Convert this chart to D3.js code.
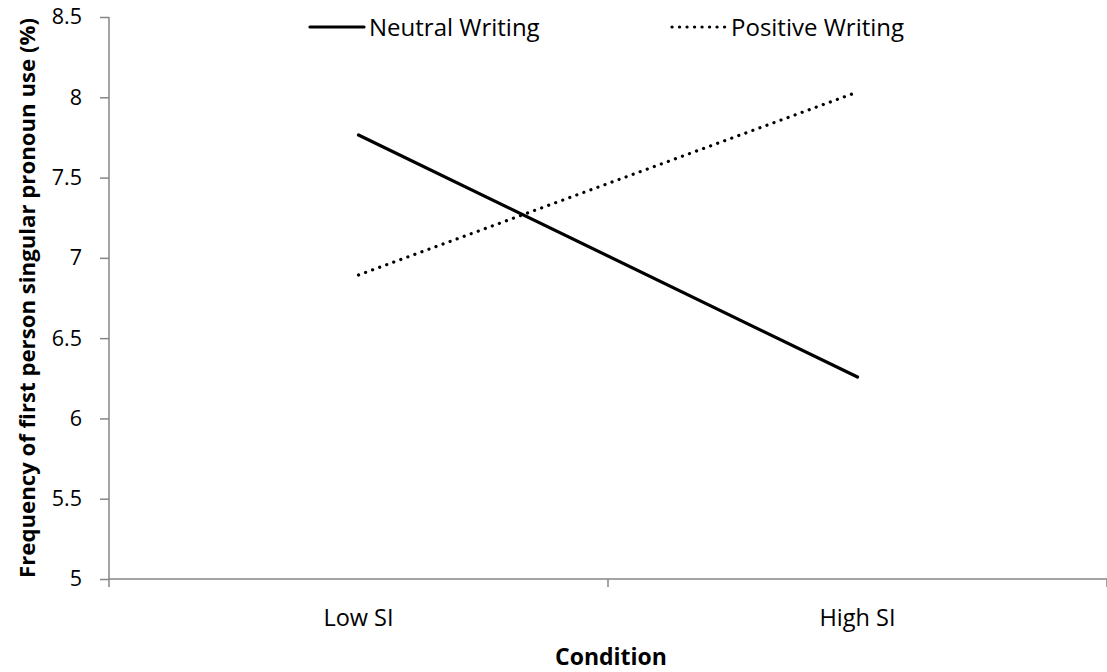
<!DOCTYPE html>
<html>
<head>
<meta charset="utf-8">
<script src="https://cdn.jsdelivr.net/npm/d3@7"></script>
<style>
  body { margin: 0; background: #fff; }
  text { font-family: "Open Sans", Lato, sans-serif; fill: #000; }
</style>
</head>
<body>
<div id="chart"></div>
<script>
var conditions = ["Low SI", "High SI"];
var neutral = [7.765, 6.258];
var positive = [6.893, 8.033];
var yTicks = [5, 5.5, 6, 6.5, 7, 7.5, 8, 8.5];

var svgWidth = 1107;
var svgHeight = 672;

var margin = { top: 17, right: 0, bottom: 93, left: 109 };
var width = svgWidth - margin.left - margin.right;
var height = svgHeight - margin.top - margin.bottom;

var svg = d3.select("#chart")
  .append("svg")
  .attr("width", svgWidth)
  .attr("height", svgHeight);

var chartGroup = svg.append("g")
  .attr("transform", `translate(${margin.left}, ${margin.top})`);

var xScale = d3.scaleBand()
  .domain(conditions)
  .range([0, width])
  .padding(0);

var yScale = d3.scaleLinear()
  .domain([5, 8.5])
  .range([height, 0]);

var axisColor = "#868686";

// y axis
var leftAxis = d3.axisLeft(yScale)
  .tickValues(yTicks)
  .tickSize(9)
  .tickPadding(18)
  .tickFormat(d => String(d));

var yAxisG = chartGroup.append("g").call(leftAxis);
yAxisG.select(".domain").remove();
yAxisG.selectAll(".tick line").attr("stroke", axisColor).attr("stroke-width", 1.5);
yAxisG.selectAll(".tick text").attr("font-size", "21.5px").attr("font-family", "'Open Sans', sans-serif");
yAxisG.append("line")
  .attr("x1", 0).attr("x2", 0)
  .attr("y1", 0).attr("y2", height + 8)
  .attr("stroke", axisColor).attr("stroke-width", 1.5);

// x axis
var xAxisG = chartGroup.append("g")
  .attr("transform", `translate(0, ${height})`);
xAxisG.append("line")
  .attr("x1", 0).attr("x2", width)
  .attr("stroke", axisColor).attr("stroke-width", 1.5);
var bounds = conditions.map(c => xScale(c)).concat([xScale(conditions[conditions.length - 1]) + xScale.bandwidth()]);
xAxisG.selectAll(".xtick")
  .data(bounds.slice(1))
  .enter()
  .append("line")
  .attr("x1", d => d).attr("x2", d => d)
  .attr("y1", 0).attr("y2", 8)
  .attr("stroke", axisColor).attr("stroke-width", 1.5);
xAxisG.selectAll(".xlabel")
  .data(conditions)
  .enter()
  .append("text")
  .attr("x", d => xScale(d) + xScale.bandwidth() / 2)
  .attr("y", 47)
  .attr("text-anchor", "middle")
  .attr("font-size", "23.5px")
  .text(d => d);

// lines
var line = d3.line()
  .x((d, i) => xScale(conditions[i]) + xScale.bandwidth() / 2)
  .y(d => yScale(d));

chartGroup.append("path")
  .datum(neutral)
  .attr("d", line)
  .attr("fill", "none")
  .attr("stroke", "#000")
  .attr("stroke-width", 3.2)
  .attr("stroke-linecap", "round");

chartGroup.append("path")
  .datum(positive)
  .attr("d", line)
  .attr("fill", "none")
  .attr("stroke", "#000")
  .attr("stroke-width", 3.2)
  .attr("stroke-linecap", "round")
  .attr("stroke-dasharray", "0.1,7.4");

// axis titles
svg.append("text")
  .attr("transform", "rotate(-90)")
  .attr("x", -(margin.top + height / 2))
  .attr("y", 35)
  .attr("text-anchor", "middle")
  .attr("font-size", "22.2px")
  .attr("font-weight", "bold")
  .text("Frequency of first person singular pronoun use (%)");

svg.append("text")
  .attr("x", margin.left + width / 2 + 3)
  .attr("y", 665)
  .attr("text-anchor", "middle")
  .attr("font-size", "23px")
  .attr("font-weight", "bold")
  .text("Condition");

// legend
var legendItems = [
  { name: "Neutral Writing", x: 310, dash: null },
  { name: "Positive Writing", x: 672, dash: "0.1,7.4" }
];
var legend = svg.append("g");
legendItems.forEach(function(item) {
  legend.append("line")
    .attr("x1", item.x).attr("x2", item.x + 54)
    .attr("y1", 27).attr("y2", 27)
    .attr("stroke", "#000")
    .attr("stroke-width", 3.2)
    .attr("stroke-linecap", "round")
    .attr("stroke-dasharray", item.dash);
  legend.append("text")
    .attr("x", item.x + 59)
    .attr("y", 36)
    .attr("font-size", "24px")
    .text(item.name);
});
</script>
</body>
</html>
